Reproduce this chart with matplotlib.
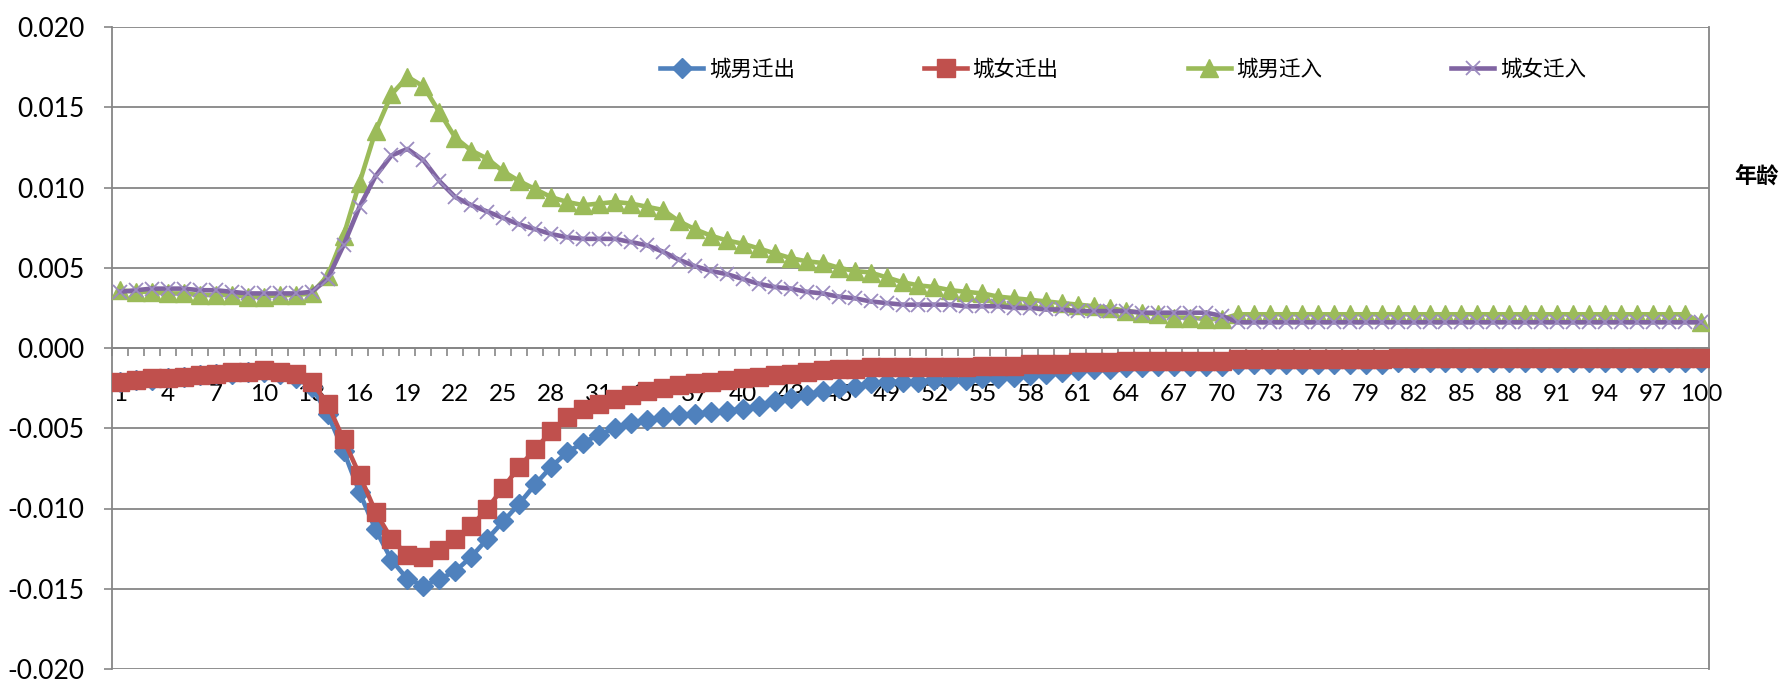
# Urban migration rates by age (in / out, male / female)

import matplotlib.pyplot as plt
from matplotlib.ticker import FixedLocator, FormatStrFormatter

# Step 1 - data: ages 1..100 and the four rate series
ages = list(range(1, 101))
tick_ages = list(range(1, 101, 3))

series_names = ["城男迁出", "城女迁出", "城男迁入", "城女迁入"]

male_out = [
    -0.0021, -0.0020, -0.0020, -0.0019, -0.0018, -0.0017, -0.0016, -0.0016, -0.0015, -0.0015,
    -0.0016, -0.0019, -0.0024, -0.0041, -0.0064, -0.0090, -0.0113, -0.0132, -0.0144, -0.0148,
    -0.0144, -0.0139, -0.0130, -0.0119, -0.0108, -0.0097, -0.0085, -0.0074, -0.0065, -0.0059,
    -0.0054, -0.0050, -0.0047, -0.0045, -0.0043, -0.0042, -0.0041, -0.0040, -0.0039, -0.0038,
    -0.0036, -0.0033, -0.0031, -0.0029, -0.0027, -0.0025, -0.0024, -0.0022, -0.0021, -0.0021,
    -0.0021, -0.0020, -0.0020, -0.0020, -0.0019, -0.0019, -0.0018, -0.0017, -0.0016, -0.0015,
    -0.0014, -0.0013, -0.0013, -0.0012, -0.0012, -0.0011, -0.0011, -0.0011, -0.0011, -0.0011,
    -0.0010, -0.0010, -0.0010, -0.0010, -0.0010, -0.0010, -0.0010, -0.0010, -0.0010, -0.0010,
    -0.0009, -0.0009, -0.0009, -0.0009, -0.0009, -0.0009, -0.0009, -0.0009, -0.0009, -0.0009,
    -0.0009, -0.0009, -0.0009, -0.0009, -0.0009, -0.0009, -0.0009, -0.0009, -0.0009, -0.0009,
]

female_out = [
    -0.0021, -0.0020, -0.0019, -0.0019, -0.0018, -0.0017, -0.0016, -0.0015, -0.0015, -0.0014,
    -0.0015, -0.0016, -0.0021, -0.0035, -0.0057, -0.0079, -0.0102, -0.0119, -0.0129, -0.0130,
    -0.0126, -0.0119, -0.0111, -0.0100, -0.0087, -0.0074, -0.0063, -0.0052, -0.0043, -0.0038,
    -0.0035, -0.0032, -0.0029, -0.0027, -0.0025, -0.0023, -0.0022, -0.0021, -0.0020, -0.0019,
    -0.0018, -0.0017, -0.0016, -0.0015, -0.0014, -0.0013, -0.0013, -0.0012, -0.0012, -0.0012,
    -0.0012, -0.0012, -0.0012, -0.0012, -0.0011, -0.0011, -0.0011, -0.0010, -0.0010, -0.0010,
    -0.0009, -0.0009, -0.0009, -0.0008, -0.0008, -0.0008, -0.0008, -0.0008, -0.0008, -0.0008,
    -0.0007, -0.0007, -0.0007, -0.0007, -0.0007, -0.0007, -0.0007, -0.0007, -0.0007, -0.0007,
    -0.0006, -0.0006, -0.0006, -0.0006, -0.0006, -0.0006, -0.0006, -0.0006, -0.0006, -0.0006,
    -0.0006, -0.0006, -0.0006, -0.0006, -0.0006, -0.0006, -0.0006, -0.0006, -0.0006, -0.0006,
]

male_in = [
    0.0036, 0.0035, 0.0035, 0.0034, 0.0034, 0.0033, 0.0033, 0.0033, 0.0032, 0.0032,
    0.0033, 0.0033, 0.0034, 0.0045, 0.0070, 0.0103, 0.0135, 0.0158, 0.0169, 0.0163,
    0.0147, 0.0131, 0.0123, 0.0118, 0.0110, 0.0104, 0.0099, 0.0094, 0.0091, 0.0089,
    0.0090, 0.0091, 0.0090, 0.0088, 0.0086, 0.0079, 0.0074, 0.0070, 0.0067, 0.0065,
    0.0062, 0.0059, 0.0056, 0.0054, 0.0053, 0.0050, 0.0048, 0.0047, 0.0044, 0.0041,
    0.0039, 0.0038, 0.0036, 0.0035, 0.0034, 0.0032, 0.0031, 0.0030, 0.0029, 0.0028,
    0.0027, 0.0026, 0.0025, 0.0023, 0.0022, 0.0021, 0.0019, 0.0019, 0.0018, 0.0018,
    0.0021, 0.0021, 0.0021, 0.0021, 0.0021, 0.0021, 0.0021, 0.0021, 0.0021, 0.0021,
    0.0021, 0.0021, 0.0021, 0.0021, 0.0021, 0.0021, 0.0021, 0.0021, 0.0021, 0.0021,
    0.0021, 0.0021, 0.0021, 0.0021, 0.0021, 0.0021, 0.0021, 0.0021, 0.0021, 0.0016,
]

female_in = [
    0.0035, 0.0036, 0.0037, 0.0037, 0.0037, 0.0036, 0.0036, 0.0035, 0.0034, 0.0034,
    0.0034, 0.0034, 0.0035, 0.0043, 0.0064, 0.0088, 0.0107, 0.0120, 0.0124, 0.0117,
    0.0104, 0.0094, 0.0089, 0.0085, 0.0081, 0.0077, 0.0074, 0.0071, 0.0069, 0.0068,
    0.0068, 0.0068, 0.0066, 0.0064, 0.0060, 0.0055, 0.0051, 0.0048, 0.0046, 0.0043,
    0.0040, 0.0038, 0.0037, 0.0035, 0.0034, 0.0032, 0.0031, 0.0029, 0.0028, 0.0027,
    0.0027, 0.0027, 0.0027, 0.0026, 0.0026, 0.0026, 0.0025, 0.0025, 0.0024, 0.0024,
    0.0023, 0.0023, 0.0023, 0.0023, 0.0022, 0.0022, 0.0022, 0.0022, 0.0022, 0.0020,
    0.0016, 0.0016, 0.0016, 0.0016, 0.0016, 0.0016, 0.0016, 0.0016, 0.0016, 0.0016,
    0.0016, 0.0016, 0.0016, 0.0016, 0.0016, 0.0016, 0.0016, 0.0016, 0.0016, 0.0016,
    0.0016, 0.0016, 0.0016, 0.0016, 0.0016, 0.0016, 0.0016, 0.0016, 0.0016, 0.0016,
]

y_ticks = [-0.020, -0.015, -0.010, -0.005, 0.000, 0.005, 0.010, 0.015, 0.020]

# Step 2 - figure and axes
plt.rcParams["font.family"] = ["Lato", "Noto Sans CJK SC", "DejaVu Sans"]

fig = plt.figure(figsize=(17.81, 6.85), dpi=100)
ax = fig.add_axes([112 / 1781, 16 / 685, (1709 - 112) / 1781, (669 - 27) / 685])

grey = "#868686"

# Step 3 - draw the four lines (Excel 2007 palette)
ax.plot(ages, male_out, color="#4F81BD", lw=3.3, marker="D", ms=10,
        mec="#4F81BD", label=series_names[0], zorder=3)
ax.plot(ages, female_out, color="#C0504D", lw=3.3, marker="s", ms=12.5,
        mec="#C0504D", label=series_names[1], zorder=4)
ax.plot(ages, male_in, color="#9BBB59", lw=3.3, marker="^", ms=12.5,
        mec="#9BBB59", label=series_names[2], zorder=5)
ax.plot(ages, female_in, color="#8064A2", lw=3.3, marker="x", ms=10.5,
        mec="#9C8CC0", mew=1.3, label=series_names[3], zorder=6)

# Step 4 - axes, grid and ticks
ax.set_xlim(0.5, 100.5)
ax.set_ylim(-0.020, 0.020)
ax.set_yticks(y_ticks)
ax.yaxis.set_major_formatter(FormatStrFormatter("%.3f"))
ax.yaxis.grid(True, color=grey, lw=1.3)
ax.set_axisbelow(True)

ax.spines["top"].set_visible(False)
ax.spines["left"].set_color(grey)
ax.spines["right"].set_color(grey)
ax.spines["bottom"].set_color(grey)
ax.spines["bottom"].set_position(("data", 0))
for s in ax.spines.values():
    s.set_linewidth(1.3)

ax.xaxis.set_major_locator(FixedLocator(tick_ages))
ax.xaxis.set_minor_locator(FixedLocator([a - 0.5 for a in ages] + [100.5]))
ax.tick_params(axis="x", which="major", length=0, pad=26, labelsize=17.5)
ax.tick_params(axis="x", which="minor", length=6, width=1.2, color=grey, direction="out")
ax.tick_params(axis="y", length=6, width=1.2, color=grey, pad=14, labelsize=19)

# x-axis title sits to the right of the plot
fig.text(1734 / 1781, 1 - 176 / 685, "年龄", fontsize=16, fontweight="bold",
         family=["Noto Sans CJK SC"], va="center", ha="left")

# Step 5 - legend across the top
fig.legend(loc="center", bbox_to_anchor=(1123 / 1781, 1 - 70 / 685), ncol=4,
           frameon=False, prop={"family": ["Noto Sans CJK SC"], "size": 15.5},
           handlelength=2.0, handletextpad=0.25, columnspacing=6.0, numpoints=1)

plt.savefig("out.png", dpi=100)
